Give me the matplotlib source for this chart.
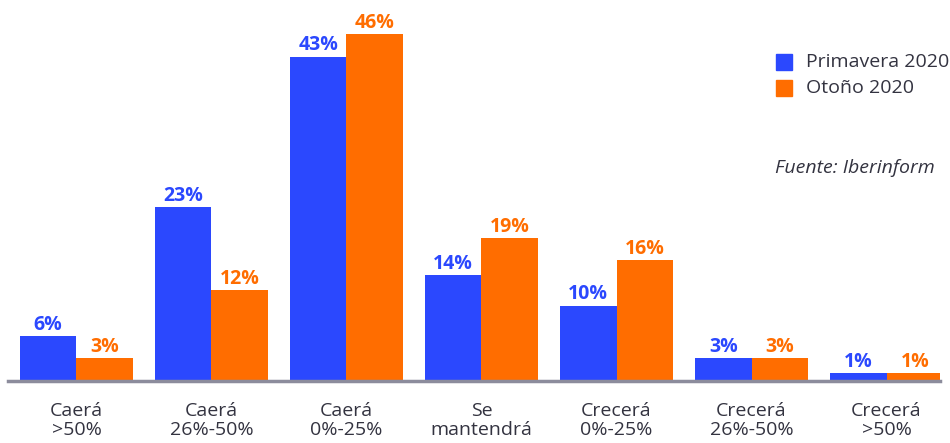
import matplotlib.pyplot as plt
from matplotlib.patches import Rectangle
import numpy as np

# datos
categorias = ['Caerá\n>50%', 'Caerá\n26%-50%', 'Caerá\n0%-25%', 'Se\nmantendrá',
              'Crecerá\n0%-25%', 'Crecerá\n26%-50%', 'Crecerá\n>50%']
primavera = [6, 23, 43, 14, 10, 3, 1]
otono = [3, 12, 46, 19, 16, 3, 1]
series = ['Primavera 2020', 'Otoño 2020']

azul = '#2B48FE'
naranja = '#FF6D00'
texto = '#333340'

plt.rcParams['font.family'] = ['Open Sans', 'DejaVu Sans']

fig = plt.figure(figsize=(9.5, 4.43), dpi=100)
ax = fig.add_axes([8/950, 62/443, 932/950, 381/443])

x = np.arange(len(categorias))
w = 56.5 / 135
ax.bar(x - w/2, primavera, w, color=azul)
ax.bar(x + w/2, otono, w, color=naranja)

for xi, p, o in zip(x, primavera, otono):
    ax.text(xi - w/2, p + 0.15, f'{p}%', ha='center', va='bottom', color=azul,
            fontsize=14, fontweight='bold')
    ax.text(xi + w/2, o + 0.15, f'{o}%', ha='center', va='bottom', color=naranja,
            fontsize=14, fontweight='bold')

ax.set_xlim(-0.507, 6.396)
ax.set_ylim(0, 50.5)
for s in ['top', 'right', 'left']:
    ax.spines[s].set_visible(False)
ax.spines['bottom'].set_color('#8c8c9c')
ax.spines['bottom'].set_linewidth(2.5)
ax.set_yticks([])
ax.set_xticks(x)
ax.set_xticklabels(categorias, fontsize=14, color=texto, linespacing=1.05)
ax.tick_params(axis='x', length=0, pad=15)

# leyenda manual
for i, (nombre, color) in enumerate(zip(series, [azul, naranja])):
    y0 = 1 - (62 + i*26) / 443
    fig.patches.append(Rectangle((776/950, y0 - 8/443), 16/950, 16/443,
                                 transform=fig.transFigure, color=color))
    fig.text(806/950, y0, nombre, fontsize=14, color=texto, va='center')

fig.text(775/950, 1 - 168/443, 'Fuente: Iberinform', fontsize=14, color=texto,
         va='center', style='italic')

fig.savefig('out.png', dpi=100)
